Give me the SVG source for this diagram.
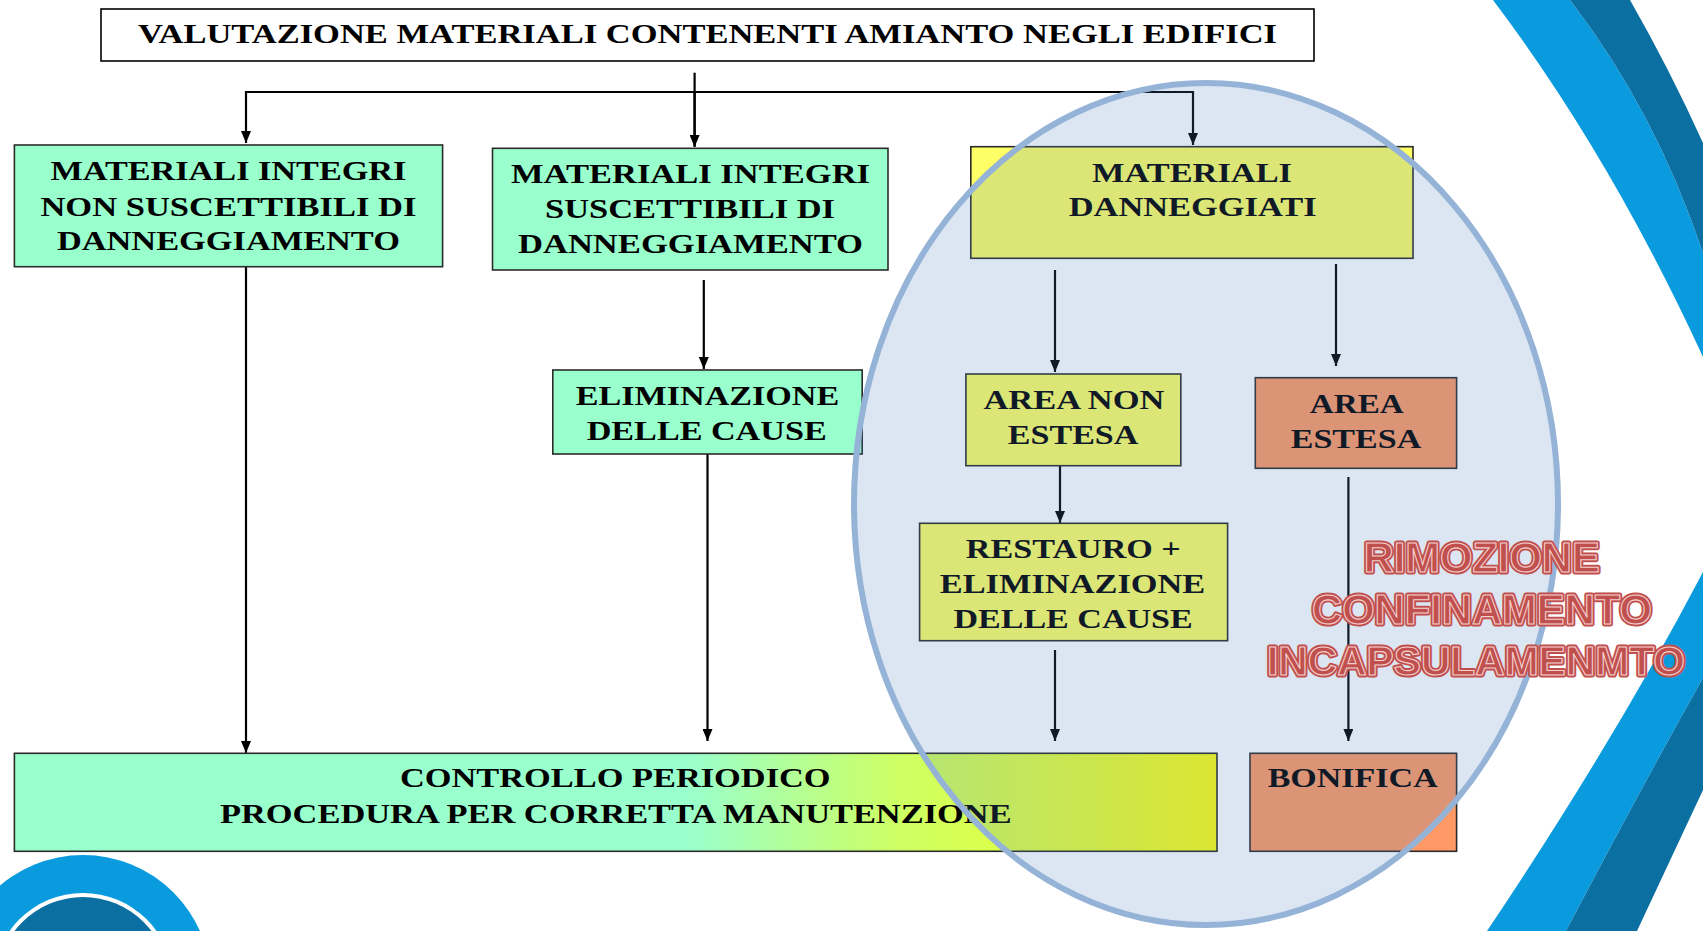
<svg xmlns="http://www.w3.org/2000/svg" width="1703" height="931" viewBox="0 0 1703 931">
<defs>
<style>
.box{stroke:#2b2b2b;stroke-width:1.6}
.g{fill:#99ffcc}
.y{fill:#ffff66}
.o{fill:#ff9966}
.t{font-family:"Liberation Serif","Times New Roman",serif;font-weight:bold;font-size:28px;fill:#000;text-anchor:middle}
.c{fill:none;stroke:#000;stroke-width:2.2}
.red{font-family:"Liberation Sans",Arial,sans-serif;font-weight:bold;font-size:43px;text-anchor:middle;fill:#c0504d}
.redo{stroke:#c0504d;stroke-width:5;stroke-linejoin:round}
.redi{stroke:#f4cfcd;stroke-width:1.1}
</style>
<marker id="ah" viewBox="0 0 12 10" refX="12" refY="5" markerWidth="12" markerHeight="10" markerUnits="userSpaceOnUse" orient="auto">
<path d="M0,0 L12,5 L0,10 z" fill="#000"/>
</marker>
<linearGradient id="gr" gradientUnits="userSpaceOnUse" x1="14" y1="0" x2="1217" y2="0">
<stop offset="0" stop-color="#99ffcc"/>
<stop offset="0.56" stop-color="#99ffcc"/>
<stop offset="0.73" stop-color="#ccff66"/>
<stop offset="1" stop-color="#ffff10"/>
</linearGradient>
</defs>
<rect width="1703" height="931" fill="#fff"/>
<g id="decor">
<path d="M1493,0 Q1610,155 1703,357 L1703,253 Q1655,110 1570,0 Z" fill="#0a9ade"/>
<path d="M1570,0 Q1655,110 1703,253 L1703,143 Q1670,70 1630,0 Z" fill="#0b6fa2"/>
<path d="M1703,572 Q1615,740 1487,931 L1566,931 Q1640,790 1703,678 Z" fill="#0a9ade"/>
<path d="M1703,678 Q1640,790 1566,931 L1637,931 L1703,790 Z" fill="#0b6fa2"/>
<circle cx="83" cy="983" r="128" fill="#0a9ade"/>
<circle cx="83" cy="983" r="90" fill="#fff"/>
<circle cx="83" cy="983" r="86" fill="#0b6fa2"/>
</g>
<g id="connectors">
<path class="c" d="M694.6,72.7 V146"/>
<path class="c" d="M694.6,92 H246 V143" marker-end="url(#ah)"/>
<path class="c" d="M694.6,92 H1193 V145" marker-end="url(#ah)"/>
<path class="c" d="M694.6,92 V147" marker-end="url(#ah)"/>
<path class="c" d="M246,267 V753" marker-end="url(#ah)"/>
<path class="c" d="M703.8,280 V369" marker-end="url(#ah)"/>
<path class="c" d="M707.5,454 V741" marker-end="url(#ah)"/>
<path class="c" d="M1055,270 V372" marker-end="url(#ah)"/>
<path class="c" d="M1336,264 V366" marker-end="url(#ah)"/>
<path class="c" d="M1060,466 V523" marker-end="url(#ah)"/>
<path class="c" d="M1055,650 V741" marker-end="url(#ah)"/>
<path class="c" d="M1348.4,477 V741" marker-end="url(#ah)"/>
</g>
<g id="n-title">
<rect x="101" y="9" width="1213" height="52" fill="#fff" stroke="#000" stroke-width="1.6"/>
<text class="t" x="707.5" y="43.3" font-size="27" textLength="1139" lengthAdjust="spacingAndGlyphs">VALUTAZIONE MATERIALI CONTENENTI AMIANTO NEGLI EDIFICI</text>
</g>
<g id="n-integri-non">
<rect class="box g" x="14.4" y="145" width="428.2" height="121.7"/>
<text class="t" x="228.4" y="180" textLength="356" lengthAdjust="spacingAndGlyphs">MATERIALI INTEGRI</text>
<text class="t" x="228.4" y="216" textLength="376" lengthAdjust="spacingAndGlyphs">NON SUSCETTIBILI DI</text>
<text class="t" x="228.4" y="250" textLength="343" lengthAdjust="spacingAndGlyphs">DANNEGGIAMENTO</text>
</g>
<g id="n-integri-susc">
<rect class="box g" x="492.5" y="148.3" width="395.5" height="121.7"/>
<text class="t" x="690.5" y="183.3" textLength="359" lengthAdjust="spacingAndGlyphs">MATERIALI INTEGRI</text>
<text class="t" x="690" y="218" textLength="290" lengthAdjust="spacingAndGlyphs">SUSCETTIBILI DI</text>
<text class="t" x="690.5" y="253" textLength="345" lengthAdjust="spacingAndGlyphs">DANNEGGIAMENTO</text>
</g>
<g id="n-danneggiati">
<rect class="box y" x="970.8" y="146.7" width="442.2" height="111.6"/>
<text class="t" x="1192" y="181.7" textLength="200" lengthAdjust="spacingAndGlyphs">MATERIALI</text>
<text class="t" x="1192.7" y="216" textLength="248" lengthAdjust="spacingAndGlyphs">DANNEGGIATI</text>
</g>
<g id="n-eliminazione">
<rect class="box g" x="552.8" y="370" width="309.4" height="84"/>
<text class="t" x="707.5" y="405" textLength="263.5" lengthAdjust="spacingAndGlyphs">ELIMINAZIONE</text>
<text class="t" x="706.7" y="440" textLength="240" lengthAdjust="spacingAndGlyphs">DELLE CAUSE</text>
</g>
<g id="n-area-non">
<rect class="box y" x="965.9" y="374" width="214.9" height="91.7"/>
<text class="t" x="1073.9" y="409.3" textLength="181" lengthAdjust="spacingAndGlyphs">AREA NON</text>
<text class="t" x="1073.1" y="444.3" textLength="130.6" lengthAdjust="spacingAndGlyphs">ESTESA</text>
</g>
<g id="n-area-estesa">
<rect class="box o" x="1255.3" y="377.7" width="201.3" height="90.6"/>
<text class="t" x="1356.8" y="413.3" textLength="94" lengthAdjust="spacingAndGlyphs">AREA</text>
<text class="t" x="1356" y="447.7" textLength="130.6" lengthAdjust="spacingAndGlyphs">ESTESA</text>
</g>
<g id="n-restauro">
<rect class="box y" x="919.6" y="523.3" width="308" height="117.4"/>
<text class="t" x="1073.3" y="558.3" textLength="215" lengthAdjust="spacingAndGlyphs">RESTAURO +</text>
<text class="t" x="1072.5" y="593.3" textLength="265.5" lengthAdjust="spacingAndGlyphs">ELIMINAZIONE</text>
<text class="t" x="1073.1" y="628.3" textLength="239.4" lengthAdjust="spacingAndGlyphs">DELLE CAUSE</text>
</g>
<g id="n-controllo">
<rect class="box" x="14.4" y="753.3" width="1202.6" height="98" fill="url(#gr)"/>
<text class="t" x="615.3" y="787.3" textLength="430.6" lengthAdjust="spacingAndGlyphs">CONTROLLO PERIODICO</text>
<text class="t" x="615.8" y="823.3" textLength="791.6" lengthAdjust="spacingAndGlyphs">PROCEDURA PER CORRETTA MANUTENZIONE</text>
</g>
<g id="n-bonifica">
<rect class="box o" x="1250" y="753.3" width="206.6" height="98"/>
<text class="t" x="1352.7" y="787" textLength="170" lengthAdjust="spacingAndGlyphs">BONIFICA</text>
</g>
<g id="n-ellipse">
<ellipse cx="1206" cy="504" rx="352" ry="421" fill="#4f81bd" fill-opacity="0.2" stroke="#95b3d7" stroke-width="6"/>
</g>
<g id="n-rimozione">
<g class="red redo">
<text x="1481.7" y="572" textLength="236" lengthAdjust="spacingAndGlyphs">RIMOZIONE</text>
<text x="1482" y="624" textLength="340" lengthAdjust="spacingAndGlyphs">CONFINAMENTO</text>
<text x="1476" y="675" font-size="40.5" textLength="418" lengthAdjust="spacingAndGlyphs">INCAPSULAMENMTO</text>
</g>
<g class="red redi">
<text x="1481.7" y="572" textLength="236" lengthAdjust="spacingAndGlyphs">RIMOZIONE</text>
<text x="1482" y="624" textLength="340" lengthAdjust="spacingAndGlyphs">CONFINAMENTO</text>
<text x="1476" y="675" font-size="40.5" textLength="418" lengthAdjust="spacingAndGlyphs">INCAPSULAMENMTO</text>
</g>
</g>
</svg>
